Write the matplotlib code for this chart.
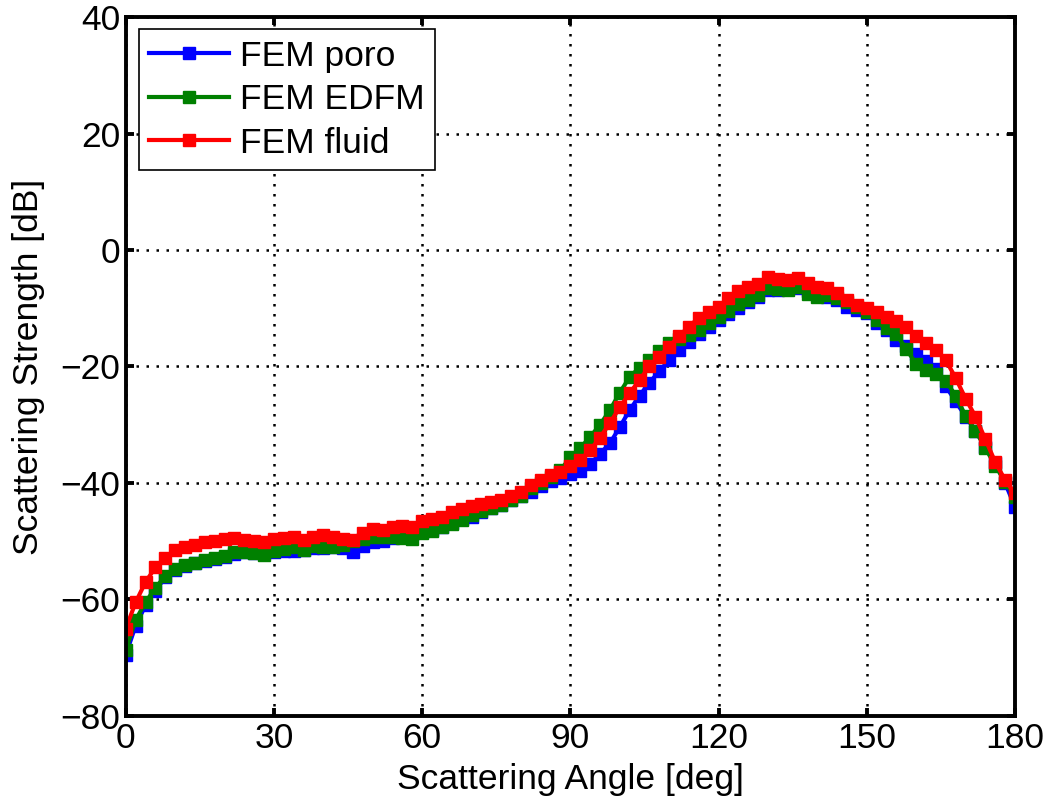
import numpy as np
import matplotlib
matplotlib.use("Agg")
import matplotlib.pyplot as plt

plt.rcParams['font.family'] = ['Liberation Sans', 'DejaVu Sans']

# Scattering angle [deg], sampled every 2 degrees
angle = list(range(0, 181, 2))

poro = [
    -69.5, -64.5, -61.0, -58.5, -56.2, -55.0, -54.3, -53.8, -53.4, -53.0,
    -52.7, -52.2, -51.9, -52.0, -52.1, -51.9, -51.6, -51.6, -51.5, -51.2,
    -51.1, -51.0, -51.2, -51.8, -50.8, -50.2, -50.0, -49.4, -49.0, -48.8,
    -48.5, -48.0, -47.5, -46.8, -46.2, -45.9, -45.0, -44.3, -43.8, -43.0,
    -42.3, -41.5, -40.5, -39.6, -39.2, -38.5, -38.0, -36.8, -35.0, -33.2,
    -30.4, -27.5, -25.0, -22.8, -20.8, -18.9, -17.2, -15.8, -14.5, -13.3,
    -12.0, -11.0, -10.0, -8.9, -8.0, -6.9, -6.8, -6.6, -6.5, -7.0,
    -7.4, -8.0, -8.6, -9.8, -10.3, -10.8, -12.5, -13.7, -15.4, -16.4,
    -17.8, -19.0, -20.5, -23.4, -26.0, -28.6, -31.0, -33.8, -36.6, -40.0,
    -44.1,
]

edfm = [
    -68.7, -63.5, -60.5, -58.0, -56.0, -54.8, -54.0, -53.7, -53.2, -52.8,
    -52.5, -51.9, -51.8, -52.0, -52.4, -51.6, -51.4, -51.0, -51.5, -50.8,
    -51.0, -51.0, -50.7, -50.0, -49.6, -49.2, -49.3, -49.3, -49.5, -49.6,
    -48.6, -48.3, -47.6, -47.0, -46.3, -45.5, -44.8, -44.3, -43.7, -42.9,
    -42.2, -40.9, -40.0, -39.0, -37.8, -35.6, -34.0, -32.1, -30.0, -27.5,
    -24.5, -21.8, -20.2, -18.9, -17.3, -16.0, -15.2, -14.6, -13.7, -12.6,
    -11.5, -10.4, -9.2, -8.6, -7.8, -6.5, -6.7, -6.9, -6.4, -7.6,
    -8.0, -7.8, -8.2, -8.9, -9.8, -10.6, -12.0, -13.4, -14.5, -17.0,
    -19.6, -20.6, -21.3, -22.5, -25.0, -28.5, -31.0, -34.0, -37.0, -39.8,
    -42.4,
]

fluid = [
    -65.0, -60.5, -57.0, -54.5, -52.8, -51.5, -51.0, -50.6, -50.2, -50.0,
    -49.6, -49.5, -49.8, -49.9, -50.2, -49.6, -49.4, -49.3, -49.8, -49.2,
    -49.0, -49.3, -49.6, -49.8, -48.6, -47.9, -48.1, -47.6, -47.4, -47.6,
    -46.5, -46.2, -45.9, -45.0, -44.4, -44.0, -43.6, -43.3, -42.9, -42.2,
    -41.5, -40.4, -39.5, -38.6, -38.2, -37.0, -36.0, -34.4, -32.2, -29.7,
    -27.0, -24.6, -22.3, -20.0, -18.3, -16.6, -14.8, -13.2, -11.6, -10.6,
    -9.8, -8.2, -7.0, -6.3, -5.8, -4.6, -5.0, -5.2, -4.8, -5.6,
    -6.3, -6.6, -7.4, -8.6, -9.4, -10.0, -10.7, -11.5, -12.2, -13.2,
    -14.8, -16.0, -17.2, -18.9, -22.0, -25.5, -28.6, -32.5, -36.4, -39.5,
    -41.8,
]

labels = ['FEM poro', 'FEM EDFM', 'FEM fluid']
colors = [(0, 0, 1), (0, 0.5, 0), (1, 0, 0)]
xticks = [0, 30, 60, 90, 120, 150, 180]
yticks = [-80, -60, -40, -20, 0, 20, 40]

fs = 25.5

fig = plt.figure(figsize=(10.48, 8.06), dpi=100)
ax = fig.add_axes([0.120, 0.1117, 0.8485, 0.8672])

for y, lab, c in zip([poro, edfm, fluid], labels, colors):
    ax.plot(angle, y, '-s', color=c, lw=3, ms=9, mec=c, mfc=c, label=lab)

ax.set_xlim(0, 180)
ax.set_ylim(-80, 40)
ax.set_xticks(xticks)
ax.set_yticks(yticks)
ax.set_yticklabels([f'\u2212{abs(v)}' if v < 0 else str(v) for v in yticks])
ax.grid(True, color='black', linestyle=(0, (1, 3.0)), linewidth=1.8)
ax.tick_params(direction='in', length=6, width=2.8, labelsize=fs,
               top=True, right=True, pad=4)
for sp in ax.spines.values():
    sp.set_linewidth(2.8)

ax.set_xlabel('Scattering Angle [deg]', fontsize=fs, labelpad=6)
ax.set_ylabel('Scattering Strength [dB]', fontsize=fs, labelpad=11)

leg = ax.legend(loc='upper left', bbox_to_anchor=(0.0146, 0.983),
                borderaxespad=0, fontsize=fs, handlelength=2.25,
                handletextpad=0.3, labelspacing=0.3, borderpad=0.3,
                fancybox=False, framealpha=1, markerscale=1)
leg.get_frame().set_edgecolor('black')
leg.get_frame().set_linewidth(1.2)

fig.savefig('out.png', dpi=100)
